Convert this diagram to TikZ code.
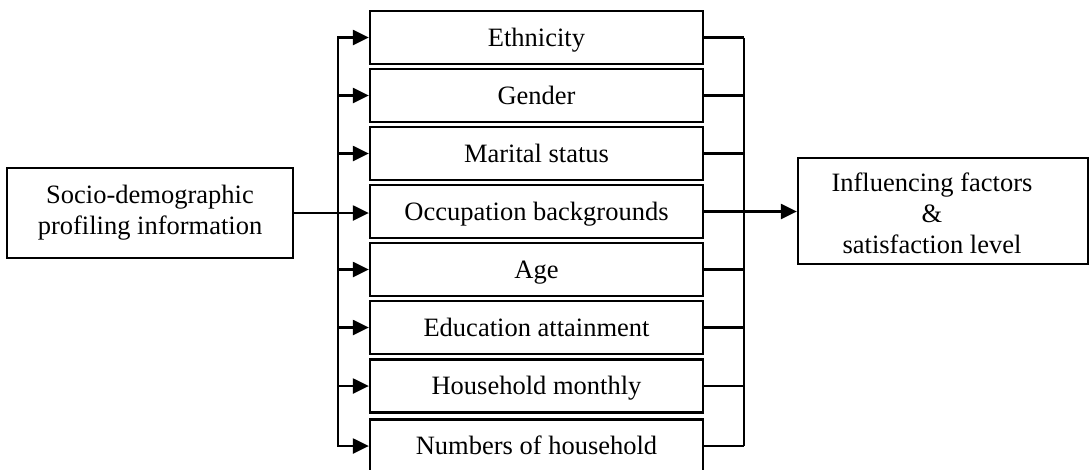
\documentclass[tikz,border=0pt]{standalone}
\usepackage{fontspec}
\setmainfont{Liberation Serif}
\usetikzlibrary{arrows.meta}
\begin{document}
\begin{tikzpicture}[x=1pt,y=-1pt,
  every node/.style={font=\fontsize{26.5}{31}\selectfont, inner sep=0pt},
  box/.style={draw, line width=2.3pt, rectangle},
  item/.style={box, minimum width=333pt, minimum height=53pt, text height=20pt, text depth=3pt},
  link/.style={line width=2.3pt},
  feed/.style={link, -{Triangle[length=16pt,width=15pt]}}]
\useasboundingbox (0,0) rectangle (1091,469);
\clip (0,0) rectangle (1091,469);

% source and outcome boxes
\node[box, minimum width=286pt, minimum height=90pt, align=center] (src) at (150,213)
  {Socio-demographic\\profiling information};
\node[box, minimum width=290pt, minimum height=106pt] (out) at (943,211) {};
\node[align=center] (outtxt) at (932,213) {Influencing factors\\\&\\satisfaction level};

% the eight profile items
\foreach \i/\t/\y in {1/Ethnicity/37.5, 2/Gender/95.5, 3/Marital status/153.5,
    4/Occupation backgrounds/211.5, 5/Age/269.5, 6/Education attainment/327.5,
    7/Household monthly/386, 8/Numbers of household/446}
  \node[item] (e\i) at (536.5,\y) {\t};

% left distribution bus
\coordinate (lbus) at (338,0);
\coordinate (rbus) at (744,0);
\draw[link, line cap=rect] (e1.west -| lbus) -- (e8.west -| lbus);
\foreach \i in {1,2,3,5,6,7,8}
  \draw[feed] (e\i.west -| lbus) -- (e\i.west);
\draw[feed] (src.east) -- (src.east -| e4.west);

% right collecting bus
\foreach \i in {1,...,8}
  \draw[link] (e\i.east) -- (e\i.east -| rbus);
\draw[link] (e1.east -| rbus) -- (e8.east -| rbus);
\draw[feed] (e4.east) -- (e4.east -| out.west);
\end{tikzpicture}
\end{document}
